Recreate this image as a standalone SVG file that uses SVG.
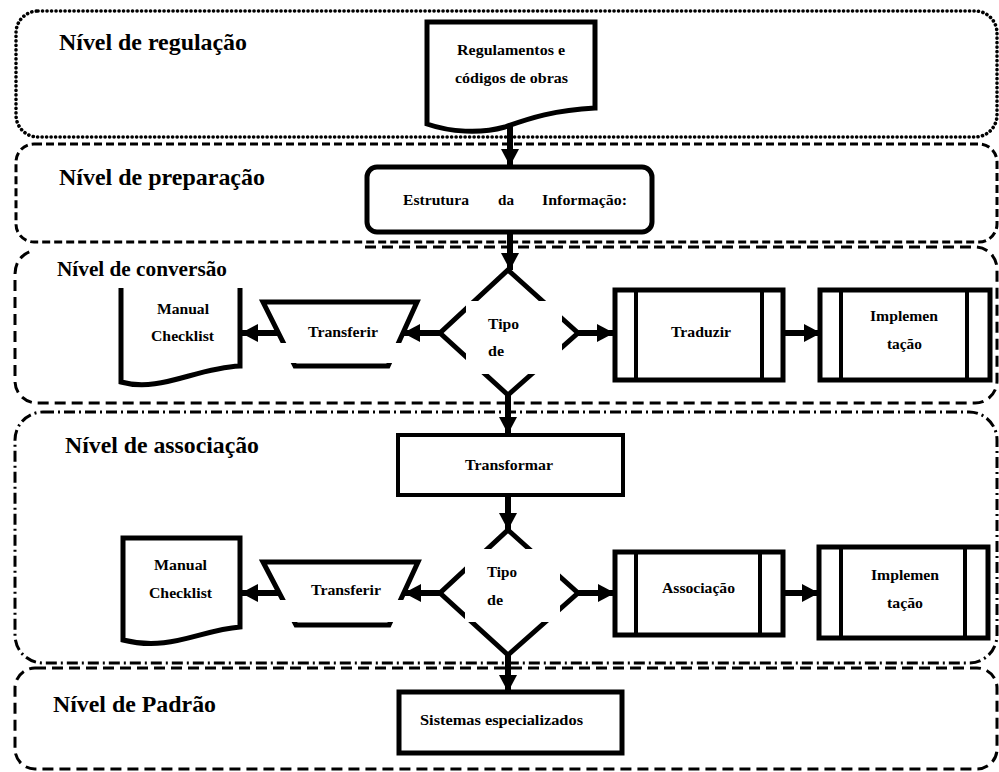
<svg xmlns="http://www.w3.org/2000/svg" width="999" height="772" viewBox="0 0 999 772">
<defs>
<style>
.lvl{fill:none;stroke:#000;stroke-width:3}
.dot{stroke-dasharray:0.1 4.4;stroke-linecap:round;stroke-width:3.6}
.dash{stroke-dasharray:8 4}
.dashl{stroke-dasharray:11 6}
.dashdot{stroke-dasharray:11 4 2 4}
.shape{fill:#fff;stroke:#000;stroke-width:5;stroke-linejoin:miter}
.thin{fill:none;stroke:#000;stroke-width:4}
.wipe{fill:#fff;stroke:none}
.lt{font-weight:bold;font-size:23px;fill:#000}
.nt{font-weight:bold;font-size:15.5px;fill:#000}
.conn{stroke:#000;stroke-width:6;fill:none}
</style>
<marker id="ah" markerUnits="userSpaceOnUse" markerWidth="18" markerHeight="18" refX="17" refY="9" orient="auto">
<path d="M0,0 L17,9 L0,18 Z" fill="#000"/>
</marker>
</defs>
<rect width="999" height="772" fill="#fff"/>

<g id="levels" font-family="'Liberation Serif', 'Times New Roman', serif">
<rect id="lvl-regulacao" class="lvl dot" x="16" y="11" width="981" height="126" rx="22"/>
<rect id="lvl-preparacao" class="lvl dash" x="16" y="144" width="981" height="98" rx="18"/>
<path id="lvl-conversao" class="lvl dashl" d="M365,247 H975 A22,22 0 0 1 997,269 V381 A22,22 0 0 1 975,403 H37 A22,22 0 0 1 15,381 V275 Q15,255 35,250"/>
<rect id="lvl-associacao" class="lvl dashdot" x="15" y="412" width="982" height="251" rx="28"/>
<rect id="lvl-padrao" class="lvl dashl" x="15" y="668" width="982" height="101" rx="20"/>
<text class="lt" x="59" y="50" textLength="188" lengthAdjust="spacingAndGlyphs">Nível de regulação</text>
<text class="lt" x="59" y="185" textLength="206" lengthAdjust="spacingAndGlyphs">Nível de preparação</text>
<text class="lt" x="57" y="276" style="font-size:21px" textLength="170" lengthAdjust="spacingAndGlyphs">Nível de conversão</text>
<text class="lt" x="65" y="453" textLength="194" lengthAdjust="spacingAndGlyphs">Nível de associação</text>
<text class="lt" x="53" y="712" textLength="163" lengthAdjust="spacingAndGlyphs">Nível de Padrão</text>
</g>

<g id="nodes" font-family="'Liberation Serif', 'Times New Roman', serif">
<g id="n-regulamentos">
<path class="shape" d="M427,22 H595 V108 C555,110 530,118 505,127 C480,134 450,132 427,124 Z"/>
<text class="nt" x="457" y="55" textLength="108" lengthAdjust="spacingAndGlyphs">Regulamentos e</text>
<text class="nt" x="455" y="83" textLength="113" lengthAdjust="spacingAndGlyphs">códigos de obras</text>
</g>

<g id="n-estrutura">
<rect class="shape" x="367" y="167" width="285" height="65" rx="10"/>
<text class="nt" x="403" y="205" textLength="66" lengthAdjust="spacingAndGlyphs">Estrutura</text>
<text class="nt" x="498" y="205" textLength="16" lengthAdjust="spacingAndGlyphs">da</text>
<text class="nt" x="542" y="205" textLength="85" lengthAdjust="spacingAndGlyphs">Informação:</text>
</g>

<g id="n-tipo1">
<polygon class="shape" points="508,270 578,333 508,395 440,333"/>
<rect class="wipe" x="466" y="301" width="96" height="73"/>
<text class="nt" x="488" y="329" textLength="31" lengthAdjust="spacingAndGlyphs">Tipo</text>
<text class="nt" x="488" y="356" textLength="16" lengthAdjust="spacingAndGlyphs">de</text>
</g>

<g id="n-transferir1">
<polygon class="shape" points="263,302 417,302 388,366 295,366"/>
<rect class="wipe" x="272" y="343" width="140" height="20"/>
<text class="nt" x="308" y="337" textLength="70" lengthAdjust="spacingAndGlyphs">Transferir</text>
</g>

<g id="n-manual1">
<path class="shape" d="M121,288 V382 C160,393 195,368 240,366 V288"/>
<text class="nt" x="157" y="314" textLength="52" lengthAdjust="spacingAndGlyphs">Manual</text>
<text class="nt" x="151" y="341" textLength="63" lengthAdjust="spacingAndGlyphs">Checklist</text>
</g>

<g id="n-traduzir">
<rect class="shape" x="615" y="290" width="168" height="90"/>
<line class="thin" x1="636" y1="290" x2="636" y2="380"/>
<line class="thin" x1="762" y1="290" x2="762" y2="380"/>
<text class="nt" x="671" y="337" textLength="60" lengthAdjust="spacingAndGlyphs">Traduzir</text>
</g>

<g id="n-implementacao1">
<rect class="shape" x="820" y="290" width="170" height="90"/>
<line class="thin" x1="841" y1="290" x2="841" y2="380"/>
<line class="thin" x1="967" y1="290" x2="967" y2="380"/>
<text class="nt" x="870" y="321" textLength="68" lengthAdjust="spacingAndGlyphs">Implemen</text>
<text class="nt" x="887" y="349" textLength="35" lengthAdjust="spacingAndGlyphs">tação</text>
</g>

<g id="n-transformar">
<rect class="shape" x="398" y="435" width="225" height="60" style="stroke-width:4"/>
<text class="nt" x="465" y="470" textLength="88" lengthAdjust="spacingAndGlyphs">Transformar</text>
</g>

<g id="n-tipo2">
<polygon class="shape" points="508,530 578,593 508,655 440,593"/>
<rect class="wipe" x="465" y="549" width="95" height="73"/>
<text class="nt" x="487" y="577" textLength="30" lengthAdjust="spacingAndGlyphs">Tipo</text>
<text class="nt" x="487" y="605" textLength="16" lengthAdjust="spacingAndGlyphs">de</text>
</g>

<g id="n-transferir2">
<polygon class="shape" points="263,562 418,562 389,625 296,625"/>
<rect class="wipe" x="272" y="600" width="140" height="22"/>
<text class="nt" x="311" y="595" textLength="70" lengthAdjust="spacingAndGlyphs">Transferir</text>
</g>

<g id="n-manual2">
<path class="shape" d="M123,538 H240 V627 C200,630 170,652 123,640 Z"/>
<text class="nt" x="154" y="570" textLength="53" lengthAdjust="spacingAndGlyphs">Manual</text>
<text class="nt" x="149" y="598" textLength="63" lengthAdjust="spacingAndGlyphs">Checklist</text>
</g>

<g id="n-associacao">
<rect class="shape" x="615" y="552" width="168" height="83"/>
<line class="thin" x1="636" y1="552" x2="636" y2="635"/>
<line class="thin" x1="760" y1="552" x2="760" y2="635"/>
<text class="nt" x="662" y="593" textLength="73" lengthAdjust="spacingAndGlyphs">Associação</text>
</g>

<g id="n-implementacao2">
<rect class="shape" x="819" y="547" width="169" height="91"/>
<line class="thin" x1="841" y1="547" x2="841" y2="638"/>
<line class="thin" x1="965" y1="547" x2="965" y2="638"/>
<text class="nt" x="871" y="580" textLength="68" lengthAdjust="spacingAndGlyphs">Implemen</text>
<text class="nt" x="887" y="608" textLength="36" lengthAdjust="spacingAndGlyphs">tação</text>
</g>

<g id="n-sistemas">
<rect class="shape" x="399" y="692" width="223" height="61"/>
<text class="nt" x="420" y="725" style="font-size:14.5px" textLength="163" lengthAdjust="spacingAndGlyphs">Sistemas especializados</text>
</g>
</g>

<g id="connectors">
<line class="conn" x1="510" y1="126" x2="510" y2="166" marker-end="url(#ah)"/>
<line class="conn" x1="510" y1="232" x2="510" y2="270" marker-end="url(#ah)"/>
<line class="conn" x1="440" y1="333" x2="403" y2="333" marker-end="url(#ah)"/>
<line class="conn" x1="278" y1="333" x2="241" y2="333" marker-end="url(#ah)"/>
<line class="conn" x1="578" y1="333" x2="614" y2="333" marker-end="url(#ah)"/>
<line class="conn" x1="783" y1="333" x2="821" y2="333" marker-end="url(#ah)"/>
<line class="conn" x1="508" y1="395" x2="508" y2="434" marker-end="url(#ah)"/>
<line class="conn" x1="508" y1="495" x2="508" y2="530" marker-end="url(#ah)"/>
<line class="conn" x1="440" y1="593" x2="404" y2="593" marker-end="url(#ah)"/>
<line class="conn" x1="280" y1="593" x2="241" y2="593" marker-end="url(#ah)"/>
<line class="conn" x1="578" y1="593" x2="615" y2="593" marker-end="url(#ah)"/>
<line class="conn" x1="783" y1="593" x2="819" y2="593" marker-end="url(#ah)"/>
<line class="conn" x1="508" y1="655" x2="508" y2="692" marker-end="url(#ah)"/>
</g>
</svg>
